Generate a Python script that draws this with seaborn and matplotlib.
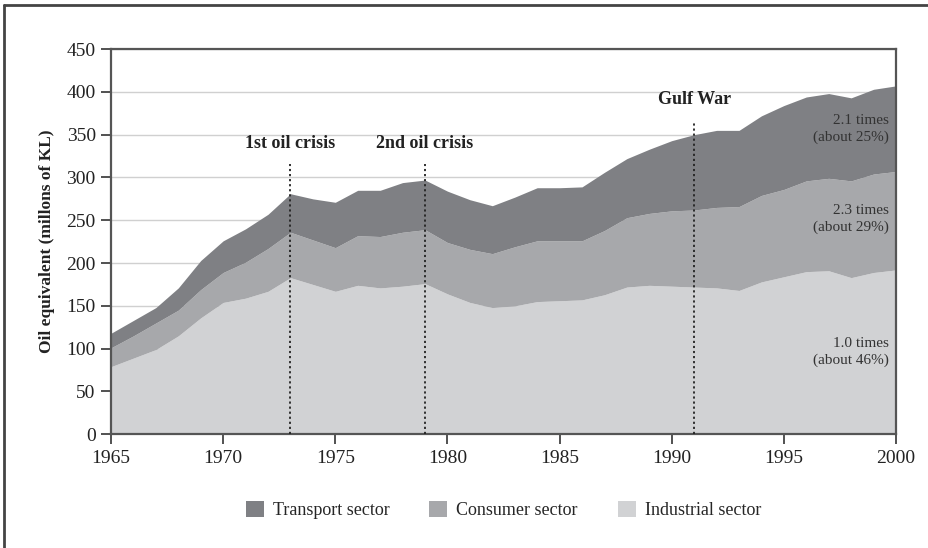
import pandas as pd
import seaborn as sns
import matplotlib.pyplot as plt
from matplotlib.patches import Patch
from matplotlib.lines import Line2D

# Data (millions of KL, oil equivalent)
years = list(range(1965, 2001))
industrial = [79, 89, 99, 115, 136, 154, 159, 167, 183, 175, 167, 174, 171, 173, 176, 164, 154, 148,
              150, 155, 156, 157, 163, 172, 174, 173, 172, 171, 168, 178, 184, 190, 191, 183, 189, 192]
consumer = [22, 26, 31, 30, 33, 35, 42, 50, 53, 52, 51, 58, 60, 63, 63, 60, 62, 63,
            69, 71, 70, 69, 75, 81, 84, 88, 90, 94, 98, 101, 102, 106, 108, 113, 115, 115]
transport = [17, 18, 18, 26, 34, 37, 39, 40, 45, 48, 53, 53, 54, 58, 58, 60, 58, 56,
             58, 62, 62, 63, 68, 69, 75, 82, 88, 90, 89, 93, 98, 98, 99, 97, 99, 100]

sectors = ['Industrial sector', 'Consumer sector', 'Transport sector']
colors = ['#d1d2d4', '#a7a8ab', '#7f8084']

events = ['1st oil crisis', '2nd oil crisis', 'Gulf War']
event_years = [1973, 1979, 1991]
event_label_y = [340, 340, 391]
event_line_top = [316, 316, 366]

notes = ['2.1 times\n(about 25%)', '2.3 times\n(about 29%)', '1.0 times\n(about 46%)']
note_y = [357, 251, 96]

df = pd.DataFrame({'year': years, 'Industrial sector': industrial,
                   'Consumer sector': consumer, 'Transport sector': transport})

sns.set_theme(style='white')
plt.rcParams['font.family'] = ['Liberation Serif', 'DejaVu Serif']

fig = plt.figure(figsize=(9.29, 5.48), dpi=100)
ax = fig.add_axes([0.1195, 0.2075, 0.845, 0.703])

ax.stackplot(df['year'], [df[s] for s in sectors], colors=colors, linewidth=0, zorder=2)

# event markers
for name, yr, ly, lt in zip(events, event_years, event_label_y, event_line_top):
    ax.plot([yr, yr], [0, lt], color='#222222', linestyle=(0, (1.2, 1.6)), linewidth=1.3, zorder=3)
    ax.text(yr, ly, name, ha='center', va='center', fontsize=13, fontweight='bold', color='#222222')

for txt, y in zip(notes, note_y):
    ax.text(1999.7, y, txt, ha='right', va='center', fontsize=11, color='#333333', linespacing=1.35)

ax.set_xlim(1965, 2000)
ax.set_ylim(0, 450)
ax.set_xticks(range(1965, 2001, 5))
ax.set_yticks(range(0, 451, 50))
ax.yaxis.grid(True, color='#d0d0d0', linewidth=1)
ax.set_axisbelow(True)
for sp in ax.spines.values():
    sp.set_color('#555555')
    sp.set_linewidth(1.6)
ax.tick_params(axis='both', direction='out', length=7, width=1.2, color='#333333',
               labelsize=14, labelcolor='#222222', pad=4)
ax.tick_params(axis='x', bottom=True)
ax.tick_params(axis='y', left=True)
ax.set_xlabel('')
ax.set_ylabel('Oil equivalent (millons of KL)', fontsize=12.5, fontweight='bold', color='#222222', labelpad=8)

handles = [Patch(facecolor=colors[2], edgecolor='none'),
           Patch(facecolor=colors[1], edgecolor='none'),
           Patch(facecolor=colors[0], edgecolor='none')]
fig.legend(handles, [sectors[2], sectors[1], sectors[0]], loc='center', bbox_to_anchor=(0.542, 0.07),
           ncol=3, frameon=False, fontsize=13, handlelength=1.0, handleheight=1.0,
           columnspacing=2.2, handletextpad=0.5)

# partial frame around the picture
fig.add_artist(Line2D([0.004, 0.004], [0, 0.991], color='#444444', linewidth=2, transform=fig.transFigure))
fig.add_artist(Line2D([0.004, 1], [0.991, 0.991], color='#444444', linewidth=2, transform=fig.transFigure))

fig.savefig('out.png', dpi=100)
